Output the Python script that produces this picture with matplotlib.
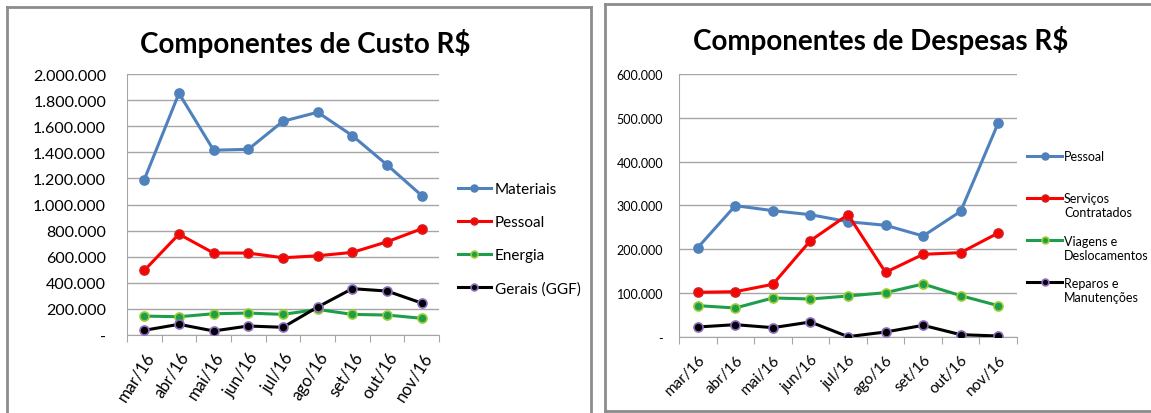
import matplotlib
matplotlib.use("Agg")
from matplotlib import pyplot as plt
from matplotlib.lines import Line2D
from matplotlib.legend_handler import HandlerLine2D
from matplotlib.ticker import FuncFormatter

months = ["mar/16", "abr/16", "mai/16", "jun/16", "jul/16", "ago/16", "set/16", "out/16", "nov/16"]

# Componentes de Custo
custo_materiais = [1191000, 1852000, 1416000, 1423000, 1638000, 1707000, 1528000, 1304000, 1069000]
custo_pessoal = [495000, 773000, 628000, 628000, 592000, 607000, 633000, 714000, 814000]
custo_energia = [145000, 140000, 163000, 168000, 158000, 196000, 158000, 153000, 128000]
custo_gerais = [36000, 82000, 31000, 69000, 59000, 214000, 355000, 337000, 245000]

# Componentes de Despesas
desp_pessoal = [203800, 299600, 288200, 279000, 263000, 254800, 230400, 286700, 488200]
desp_servicos = [101900, 103400, 120200, 219800, 279000, 147500, 188600, 192400, 237300]
desp_viagens = [71500, 66200, 89000, 86700, 93500, 101100, 120900, 94300, 71500]
desp_reparos = [22800, 28100, 21300, 34200, 800, 11400, 26600, 5300, 2300]

BLUE = "#4F81BD"
RED = "#FF0000"
GREEN = "#1E9E4A"
BLACK = "#000000"

plt.rcParams['font.family'] = ['Lato', 'DejaVu Sans']


class FirstLineHandler(HandlerLine2D):
	# put the legend line next to the first line of a two-line label
	def __init__(self, shift, **kw):
		super().__init__(**kw)
		self.shift = shift

	def create_artists(self, legend, orig_handle, xdescent, ydescent, width, height, fontsize, trans):
		return super().create_artists(legend, orig_handle, xdescent, ydescent - self.shift * fontsize,
			width, height, fontsize, trans)


def fmt(v, pos):
	if abs(v) < 1:
		return "-"
	return "{:,.0f}".format(v).replace(",", ".")


def style_series(ax, x, y, color, mfc, mec, label):
	return ax.plot(x, y, color=color, lw=2.2, marker="o", ms=6.5, mfc=mfc, mec=mec, mew=1.2, label=label, zorder=3)[0]


def setup_axes(ax, ymax, step, rot, fs, xfs, ypad, xpad):
	ax.set_xlim(-0.5, len(months) - 0.5)
	ax.set_ylim(0, ymax)
	ax.set_yticks(range(0, ymax + 1, step))
	ax.yaxis.set_major_formatter(FuncFormatter(fmt))
	ax.grid(axis="y", color="#A6A6A6", lw=1)
	ax.set_axisbelow(True)
	for s in ["top", "right"]:
		ax.spines[s].set_visible(False)
	ax.spines["left"].set_color("#A6A6A6")
	ax.spines["bottom"].set_color("#A6A6A6")
	ax.tick_params(axis="y", length=0, labelsize=fs, pad=ypad)
	# category boundary ticks
	ax.set_xticks([i - 0.5 for i in range(len(months) + 1)], minor=False)
	ax.set_xticklabels([""] * (len(months) + 1))
	ax.tick_params(axis="x", which="major", length=5, color="#A6A6A6", direction="out")
	ax.set_xticks(range(len(months)), minor=True)
	ax.set_xticklabels(months, minor=True, rotation=rot, ha="right", rotation_mode="anchor", fontsize=xfs)
	ax.tick_params(axis="x", which="minor", length=0, pad=xpad)


fig = plt.figure(figsize=(11.51, 4.14), dpi=100)

x = list(range(len(months)))

# left chart
ax1 = fig.add_axes([0.1103, 0.1884, 0.2711, 0.6304])
style_series(ax1, x, custo_materiais, BLUE, BLUE, BLUE, "Materiais")
style_series(ax1, x, custo_pessoal, RED, RED, "#D02020", "Pessoal")
style_series(ax1, x, custo_energia, GREEN, GREEN, "#9ACD32", "Energia")
style_series(ax1, x, custo_gerais, BLACK, BLACK, "#8E6BBF", "Gerais (GGF)")
setup_axes(ax1, 2000000, 200000, 57, 11.5, 12, 15, 10)
fig.text(0.265, 0.894, "Componentes de Custo R$", ha="center", va="center", fontsize=20, fontweight="bold")
ax1.legend(loc="center left", bbox_to_anchor=(1.04, 0.368), frameon=False, fontsize=11,
	handlelength=2.2, handletextpad=0.25, labelspacing=1.25, borderaxespad=0, markerscale=0.75)

# right chart
ax2 = fig.add_axes([0.5899, 0.1836, 0.2937, 0.6353])
h1 = style_series(ax2, x, desp_pessoal, BLUE, BLUE, BLUE, "Pessoal\n ")
h2 = style_series(ax2, x, desp_servicos, RED, RED, "#D02020", "Serviços\nContratados")
h3 = style_series(ax2, x, desp_viagens, GREEN, GREEN, "#9ACD32", "Viagens e\nDeslocamentos")
h4 = style_series(ax2, x, desp_reparos, BLACK, BLACK, "#8E6BBF", "Reparos e\nManutenções")
setup_axes(ax2, 600000, 100000, 45, 9, 11, 11.5, 11)
fig.text(0.765, 0.903, "Componentes de Despesas R$", ha="center", va="center", fontsize=20, fontweight="bold")
up = FirstLineHandler(1.3)
ax2.legend(loc="center left", bbox_to_anchor=(1.015, 0.42), frameon=False, fontsize=9,
	handlelength=2.8, handletextpad=0.15, labelspacing=1.3, borderaxespad=0, markerscale=0.75,
	handler_map={h1: up, h2: up, h3: up, h4: up})

# panel borders
W, H = 1151.0, 414.0
bc = "#8C8C8C"
fig.add_artist(Line2D([7 / W, 7 / W], [0, 1 - 8 / H], color=bc, lw=2))
fig.add_artist(Line2D([7 / W, 591 / W], [1 - 8 / H, 1 - 8 / H], color=bc, lw=2))
fig.add_artist(Line2D([591 / W, 591 / W], [0, 1 - 8 / H], color=bc, lw=2))
fig.add_artist(Line2D([605 / W, 605 / W], [1 - 412 / H, 1 - 5 / H], color=bc, lw=2))
fig.add_artist(Line2D([605 / W, 1], [1 - 5 / H, 1 - 5 / H], color=bc, lw=2))
fig.add_artist(Line2D([605 / W, 1], [1 - 412 / H, 1 - 412 / H], color=bc, lw=2))

fig.savefig("out.png", dpi=100)
